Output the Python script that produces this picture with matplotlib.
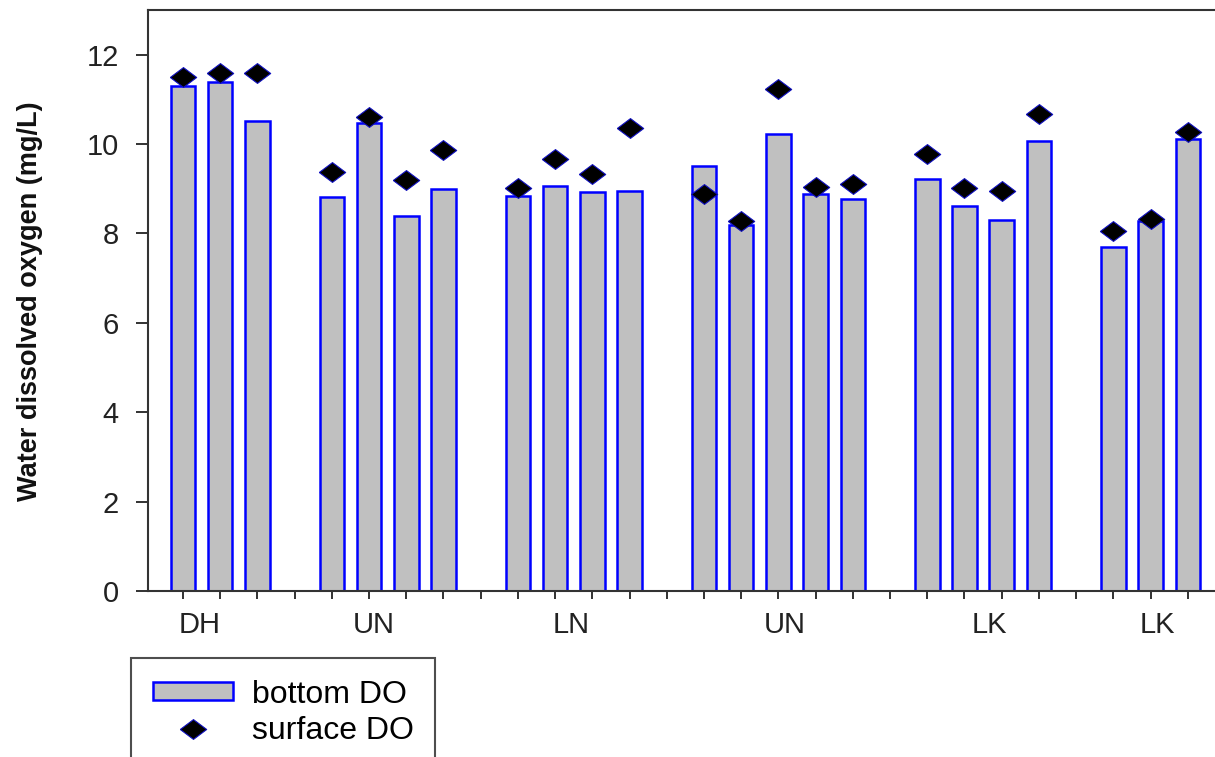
import numpy as np
import matplotlib.pyplot as plt
from matplotlib.patches import Patch
from matplotlib.lines import Line2D

plt.rcParams['font.family'] = ['Liberation Sans', 'DejaVu Sans']

# sites in each group, in plotting order
groups = ["DH", "UN", "LN", "UN", "LK", "LK"]
group_sizes = [3, 4, 4, 5, 4, 3]

bottom_do = [11.31, 11.39, 10.51,
             8.81, 10.48, 8.39, 9.00,
             8.84, 9.07, 8.92, 8.95,
             9.50, 8.18, 10.22, 8.89, 8.76,
             9.22, 8.62, 8.30, 10.08,
             7.69, 8.27, 10.11]

surface_do = [11.51, 11.59, 11.59,
              9.37, 10.60, 9.19, 9.87,
              9.01, 9.67, 9.32, 10.36,
              8.89, 8.29, 11.23, 9.05, 9.10,
              9.78, 9.01, 8.96, 10.67,
              8.06, 8.33, 10.28]

# x slot for each bar, one empty slot between groups
xpos = []
slot = 0
for n in group_sizes:
    xpos.extend(range(slot, slot + n))
    slot += n + 1
xpos = np.array(xpos)
n_slots = slot - 1

# where the group names sit (slot units)
label_x = [0.46, 5.13, 10.43, 16.18, 21.67, 26.18]

fig = plt.figure(figsize=(12.15, 7.57), dpi=100)
ax = fig.add_axes([148 / 1215, 166 / 757, (1225 - 148) / 1215, 581 / 757])

ax.bar(xpos, bottom_do, width=0.66, color='#c0c0c0', edgecolor='#0000ff',
       linewidth=1.8, zorder=2)

diamond = [(-1, 0), (0, 0.75), (1, 0), (0, -0.75), (-1, 0)]
ax.plot(xpos, surface_do, linestyle='none', marker=diamond, markersize=19,
        markerfacecolor='black', markeredgecolor='#1010c0',
        markeredgewidth=0.8, zorder=3)

ax.set_xlim(-0.94, 28.0)
ax.set_ylim(0, 13)
ax.set_yticks([0, 2, 4, 6, 8, 10, 12])
ax.set_xticks(np.arange(n_slots))
ax.set_xticklabels([])

ax.tick_params(axis='y', direction='out', length=9, width=1.3, pad=12,
               labelsize=21, colors='#222222')
ax.tick_params(axis='x', direction='out', length=6, width=1.3, colors='#222222')

for sp in ax.spines.values():
    sp.set_linewidth(1.5)
    sp.set_color('#333333')
ax.spines['right'].set_visible(False)

for lx, name in zip(label_x, groups):
    ax.text(lx, -0.77, name, ha='center', va='center', fontsize=21,
            color='#222222', transform=ax.transData)

fig.text(30 / 1215, 1 - 301 / 757, "Water dissolved oxygen (mg/L)",
         rotation=90, ha='center', va='center', fontsize=19.5,
         fontweight='bold', color='#111111')

handles = [Patch(facecolor='#c0c0c0', edgecolor='#0000ff', linewidth=1.8),
           Line2D([], [], linestyle='none', marker=diamond, markersize=19,
                  markerfacecolor='black', markeredgecolor='#1010c0',
                  markeredgewidth=0.8)]
leg = fig.legend(handles, ["bottom DO", "surface DO"], loc='upper left',
                 bbox_to_anchor=(131 / 1215, 1 - 658 / 757), fontsize=23,
                 frameon=True, fancybox=False, handlelength=2.5,
                 handleheight=0.5, handletextpad=0.6, borderpad=0.68,
                 labelspacing=0.2, borderaxespad=0)
leg.get_frame().set_edgecolor('#222222')
leg.get_frame().set_linewidth(1.5)

fig.savefig('out.png', dpi=100)
